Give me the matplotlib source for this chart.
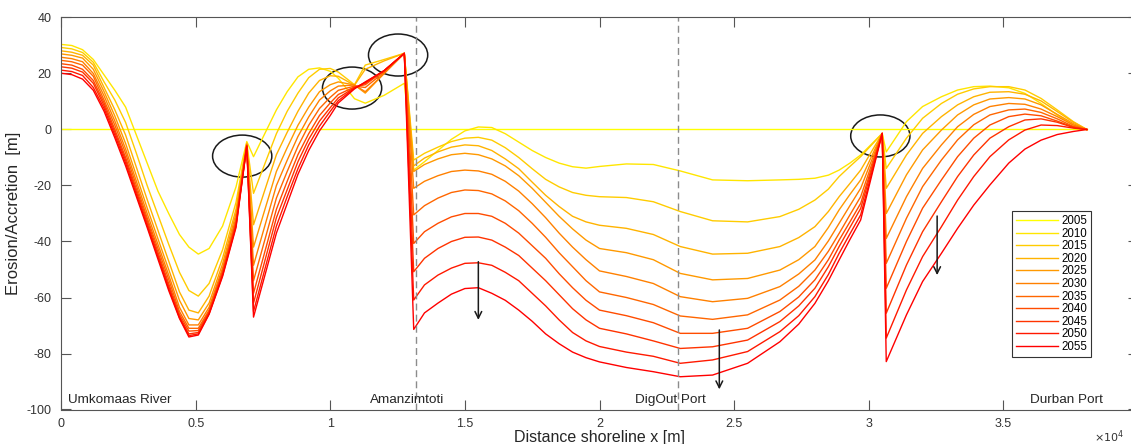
import numpy as np
import matplotlib.pyplot as plt
from matplotlib.patches import Ellipse
from matplotlib.ticker import FuncFormatter

plt.rcParams['font.family'] = ['Liberation Sans', 'DejaVu Sans']
plt.rcParams['axes.unicode_minus'] = False

# alongshore position of each model cell [m]
x = [0, 400, 800, 1200, 1600, 2000, 2400, 2800, 3200, 3600, 4000, 4400, 4750,
     5100, 5500, 6000, 6500, 6900,
     7150, 8000, 8400, 8800, 9200, 9600, 10000, 10300, 10900, 11300, 12000, 12750,
     13100, 13500, 14000, 14500, 15000, 15500, 16000, 16500, 17000, 17500,
     18000, 18500, 19000, 19500, 20000, 21000, 22000, 23000, 24200, 25500,
     26700, 27400, 28000, 28500, 28900, 29300, 29700, 30500,
     30650, 31400, 32000, 32700, 33300, 33900, 34500, 35200, 35800, 36400,
     37000, 37600, 38100]

# initial shoreline (reference year)
x_2005 = [0, 38100]
y2005 = [0, 0]

# shoreline change per year [m]
y2010 = [30.4, 30.0, 28.5, 25, 19.5, 14, 8, -2, -12, -22, -30, -37.5, -42,
         -44.5, -42.5, -34.5, -20.5, -4.3,
         -9.7, 7, 13.5, 18.8, 21.5, 22, 20.8, 18.3, 11, 9.4, 12.2, 16.5,
         -14.5, -11.5, -7.5, -3.5, -0.5, 0.9, 0.7, -1.5, -4.5, -7.5,
         -10, -12, -13.3, -13.8, -13.2, -12.3, -12.5, -14.8, -18, -18.3,
         -18, -17.8, -17.4, -16.3, -14.5, -12, -9.1, -1.4,
         -8, 2.8, 8.2, 11.7, 14.1, 15.3, 15.5, 14.9, 12.9, 9.3, 5.2, 1.6, 0]
y2015 = [29.3, 28.8, 27.5, 24, 17, 10.5, 2.5, -8.5, -20, -30.5, -41, -51, -57.5,
         -59.5, -55, -43, -26, -4.8,
         -22.8, -1.5, 6.5, 13, 18.5, 21.5, 21.8, 20.5, 16, 23, 25, 27.2,
         -10.9, -8.5, -6.3, -4.3, -3.1, -2.8, -3.8, -6.5, -10, -14,
         -17.8, -20.5, -22.5, -23.5, -24, -24.3, -25.8, -29.3, -32.6, -33,
         -31.1, -28.5, -25.2, -21.3, -16.8, -13.2, -9.7, -1.4,
         -13.9, -3.1, 4, 9.3, 12.6, 14.5, 15.3, 15.3, 14.1, 11.1, 7, 2.8, 0]
y2020 = [28.1, 27.6, 26.5, 23, 15, 7, -2, -13.5, -25, -36, -47, -58, -64.5,
         -65.5, -59.5, -46, -28.5, -5,
         -34, -9, -1, 6.5, 13, 17.5, 19.2, 19, 15.8, 21.5, 24.5, 27.2,
         -13, -10.2, -8, -6.3, -5.5, -5.8, -7.5, -10.5, -14, -18.8,
         -23.5, -27.5, -31, -33, -34.2, -35.3, -37.5, -41.8, -44.5, -44.2,
         -41.8, -38.6, -34.7, -29.3, -24, -19.3, -14.5, -1.4,
         -21, -9.1, -1.4, 4.6, 8.8, 11.7, 13.3, 13.5, 12.6, 10.2, 6.4, 2.6, 0]
y2025 = [27, 26.5, 25.5, 21.5, 13.5, 4.8, -5, -16.5, -28, -39, -50, -61, -67.5,
         -68, -62, -48, -30, -5.2,
         -42, -15, -6.5, 1.5, 8, 13.5, 16, 17, 15.9, 13, 20, 27.2,
         -15, -12.5, -10.5, -9, -8.5, -9, -10.5, -13, -16.5, -21,
         -26, -31, -35.5, -39.5, -42.5, -44, -46.5, -51.4, -53.7, -53.2,
         -50.2, -46.5, -41.8, -35, -28.7, -23.2, -18, -1.4,
         -30, -16.2, -7.3, -0.2, 5.2, 8.8, 10.9, 11.4, 10.9, 8.8, 5.4, 2.1, 0]
y2030 = [25.8, 25.3, 24.2, 20, 12, 3, -7, -18.5, -30, -41, -52, -63.5, -69.8,
         -69.8, -63.5, -49.5, -31.5, -5.4,
         -48.5, -20, -11, -2.5, 4.5, 10.5, 13.8, 15.5, 15.9, 13.5, 20, 27.2,
         -21, -18.5, -16.5, -15, -14.5, -14.8, -16, -18.5, -22, -26.5,
         -31.5, -37, -42, -46.5, -50.5, -52.5, -55, -59.7, -61.5, -60.3,
         -56.1, -51.6, -46.6, -39.8, -33.5, -27.2, -21, -1.4,
         -38.9, -24, -13.9, -5.5, 1.0, 5.4, 8.2, 9.3, 9, 7.3, 4.6, 1.6, 0]
y2035 = [24.7, 24.2, 23, 19, 10.5, 1.5, -8.5, -20, -31.5, -42.5, -53.5, -65, -71,
         -71, -64.5, -50.5, -32.5, -5.6,
         -54, -24.5, -15, -6, 1.5, 7.5, 11.5, 14, 15.5, 15, 20.5, 27.2,
         -30.5, -27.2, -24.5, -22.5, -21.6, -21.8, -23, -25.5, -29, -33.5,
         -38.5, -44, -49, -54, -58, -60, -62.5, -66.6, -67.8, -66.2,
         -60.9, -56, -50.2, -43.5, -37.1, -30.5, -24, -1.4,
         -47.8, -31.7, -20.4, -10.9, -3.7, 1.7, 5.2, 7, 7.3, 6.1, 3.8, 1.1, 0]
y2040 = [23.5, 23, 21.5, 17.5, 9.5, 0, -10, -21.3, -32.5, -43.8, -55, -66, -72,
         -71.8, -65, -51, -33.3, -5.7,
         -58.5, -28.5, -18.5, -9, -1.5, 5, 9.5, 12.5, 15.2, 16, 21, 27.2,
         -40.7, -36.5, -33.5, -31.2, -30, -30, -31, -33.5, -37, -41.5,
         -46, -51.5, -56.5, -61, -64.5, -66.5, -69, -72.8, -72.8, -71,
         -65, -59.8, -53.7, -46.5, -39.5, -33, -26.4, -1.4,
         -56.7, -40, -28.1, -18, -9.7, -3.1, 1.6, 4.6, 5.5, 4.9, 3.0, 0.9, 0]
y2045 = [22.4, 21.9, 20.5, 16.5, 8.5, -1, -11, -22.3, -33.5, -44.8, -56, -66.8, -73,
         -72.5, -65.5, -51.7, -34, -5.8,
         -62, -31.5, -21.5, -11.5, -3.5, 3, 7.8, 11.3, 15, 16.5, 21, 27.2,
         -50.8, -46, -42.5, -40, -38.5, -38.4, -39.5, -42, -45, -49.5,
         -54, -59, -64, -68, -71, -73, -75.5, -78.2, -77.6, -75.2,
         -68.6, -63, -56.7, -49, -41.8, -35, -28.2, -1.4,
         -65.6, -48.4, -36.5, -25.8, -16.8, -9.1, -3.1, 1.0, 3.4, 3.8, 2.6, 0.7, 0]
y2050 = [21.2, 20.7, 19.3, 15, 7.5, -2, -12, -23.2, -34.3, -45.5, -56.8, -67.2, -73.6,
         -73, -65.8, -52.1, -34.5, -5.9,
         -65, -34.5, -24, -14, -5.5, 1.2, 6.5, 10.3, 14.8, 16.8, 21, 27.2,
         -60.9, -55.5, -52, -49.5, -47.8, -47.6, -48.5, -51, -54, -58.5,
         -63, -68, -72.5, -75.5, -77.5, -79.5, -81, -83.5, -82.3, -79.3,
         -72.2, -66.5, -59.7, -51.8, -44.2, -37.3, -30.5, -1.4,
         -74.5, -57.3, -45.4, -34.7, -25.2, -16.8, -9.7, -3.7, -0.2, 1.6, 1.4, 0.5, 0]
y2055 = [20.1, 19.6, 18, 14, 6.5, -3, -13, -24, -35, -46.3, -57.5, -67.5, -74.1,
         -73.4, -66, -52.5, -35, -6,
         -67, -37, -26.5, -16, -7.5, -0.5, 5, 9.5, 14.5, 17, 21, 27.2,
         -71.4, -65.5, -62, -58.8, -56.8, -56.5, -58.5, -61, -64.5, -68.5,
         -73, -76.5, -79.5, -81.5, -83, -85, -86.5, -88.3, -87.7, -83.5,
         -75.8, -69.5, -62.1, -54, -46.6, -39.3, -32.3, -1.4,
         -82.9, -66.2, -54.3, -44.2, -35.3, -27, -19.8, -12, -7, -3.8, -1.8, -0.7, 0]

years = [2005, 2010, 2015, 2020, 2025, 2030, 2035, 2040, 2045, 2050, 2055]

# coastal structures / places along the shore [m]
places = ['Umkomaas River', 'Amanzimtoti', 'DigOut Port', 'Durban Port']
place_x = [260, 12840, 22630, 37350]
dashed_x = [13200, 22900]

# groyne spots that are circled, and the erosion trend arrows
circle_x = [6730, 10810, 12520, 30430]
circle_y = [-9.5, 14.8, 26.6, -2.3]
arrow_x = [15500, 24450, 32540]
arrow_top = [-47.2, -71.6, -30.9]
arrow_bottom = [-68.0, -92.8, -52.0]

fig = plt.figure(figsize=(11.31, 4.44), dpi=100)
ax = fig.add_axes([61 / 1131, 34.5 / 444, 1077 / 1131, 392 / 444])

colors = plt.cm.autumn(np.linspace(1, 0, len(years)))
ax.plot(x_2005, y2005, color=colors[0], lw=1.0, label=str(years[0]))
for yr, ys, c in zip(years[1:], [y2010, y2015, y2020, y2025, y2030, y2035,
                                 y2040, y2045, y2050, y2055], colors[1:]):
    ax.plot(x, ys, color=c, lw=1.0, label=str(yr))

for xd in dashed_x:
    ax.axvline(xd, color='#8c8c8c', lw=1.0, ls=(0, (5, 3)))

for cx, cy in zip(circle_x, circle_y):
    ax.add_patch(Ellipse((cx, cy), width=2200, height=15, fill=False,
                         ec='#1a1a1a', lw=1.1))

for xa, y0, y1 in zip(arrow_x, arrow_top, arrow_bottom):
    ax.annotate('', xy=(xa, y1), xytext=(xa, y0),
                arrowprops=dict(arrowstyle='->', color='#1a1a1a', lw=1.1,
                                mutation_scale=12, shrinkA=0, shrinkB=0))

for name, px in zip(places, place_x):
    ax.text(px, -96.7, name, fontsize=9.7, color='#262626', va='center',
            ha='left' if name == 'Umkomaas River' else 'center')

ax.set_xlim(0, 40000)
ax.set_ylim(-100, 40)
ax.set_xticks(np.arange(0, 40000, 5000))
ax.set_yticks(np.arange(-100, 41, 20))
ax.xaxis.set_major_formatter(FuncFormatter(lambda v, p: f'{v / 1e4:g}'))
ax.tick_params(direction='in', length=7, width=0.8, top=True, right=True,
               color='#555555', labelsize=9, labelcolor='#333333', pad=7)
ax.tick_params(axis='x', pad=6)
for sp in ax.spines.values():
    sp.set_color('#555555')
    sp.set_linewidth(0.8)

ax.set_xlabel('Distance shoreline x [m]', fontsize=11.5, color='#262626')
ax.xaxis.set_label_coords(0.5, -0.052)
ax.set_ylabel('Erosion/Accretion  [m]', fontsize=12, color='#262626')
ax.yaxis.set_label_coords(-0.037, 0.5)
fig.text(1094 / 1131, 7 / 444, r'$\times10^{4}$', fontsize=8, color='#333333',
         va='center')

leg = ax.legend(loc='upper left', bbox_to_anchor=(0.883, 0.506), fontsize=8.3,
                fancybox=False, edgecolor='#333333', framealpha=1,
                handlelength=3.6, handletextpad=0.35, labelspacing=0.05,
                borderpad=0.35, borderaxespad=0)
leg.get_frame().set_linewidth(0.8)

plt.savefig('out.png', dpi=100)
